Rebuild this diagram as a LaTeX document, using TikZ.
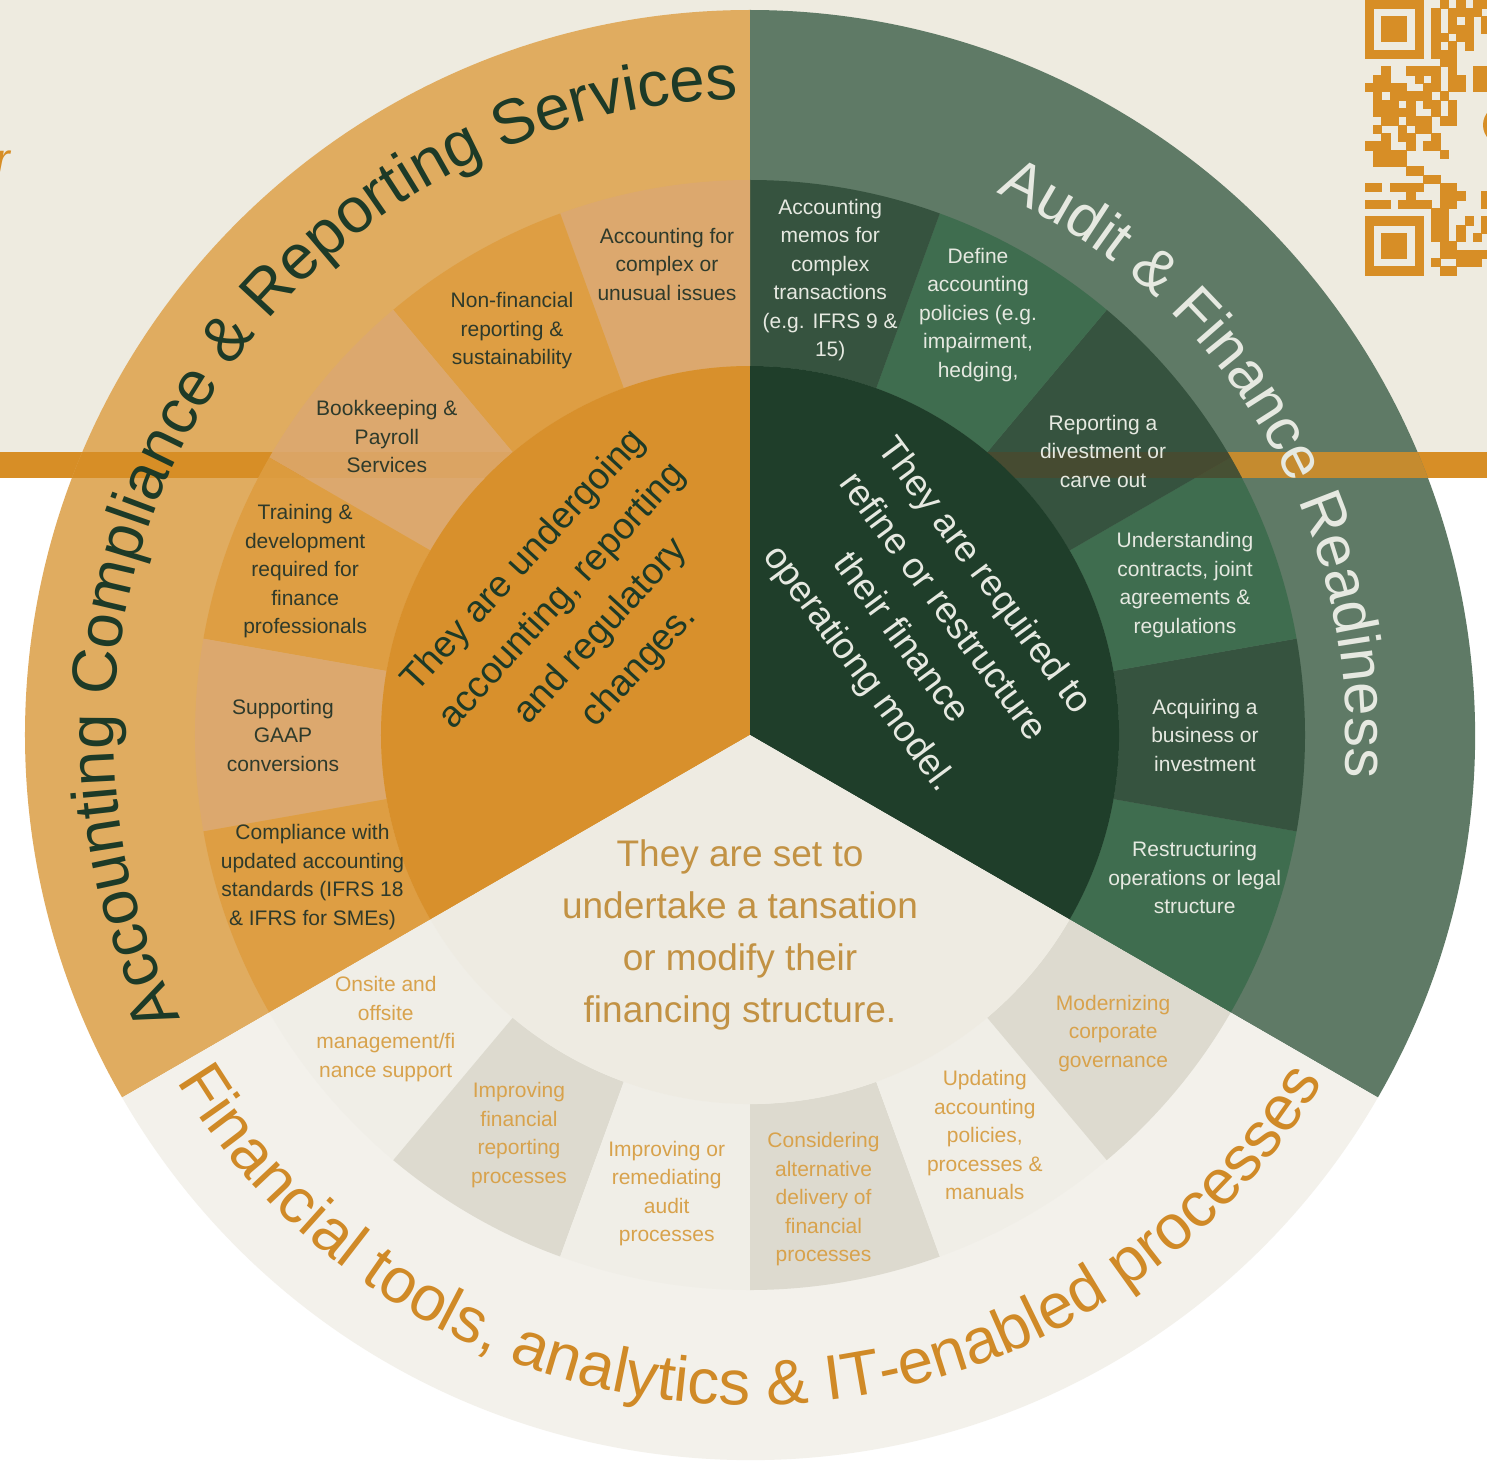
\documentclass[tikz,border=0pt]{standalone}
\usepackage{fontspec}
\setmainfont{Liberation Sans}
\usetikzlibrary{decorations.text}

\definecolor{bgcream}{HTML}{EEEBE0}
\definecolor{band}{HTML}{D78E26}
\definecolor{bandolive}{HTML}{4A4A2E}
\definecolor{ringorange}{HTML}{E0AC60}
\definecolor{segorangeA}{HTML}{DE9E43}
\definecolor{segorangeB}{HTML}{DCA86E}
\definecolor{discorange}{HTML}{D8902C}
\definecolor{ringgreen}{HTML}{5F7A66}
\definecolor{seggreenA}{HTML}{36533F}
\definecolor{seggreenB}{HTML}{3F6D4F}
\definecolor{discgreen}{HTML}{1F3E2A}
\definecolor{ringcream}{HTML}{F3F1EB}
\definecolor{segcreamA}{HTML}{F0EEE7}
\definecolor{segcreamB}{HTML}{DDDACF}
\definecolor{disccream}{HTML}{EEEBE2}
\definecolor{txtdark}{HTML}{2E3A2B}
\definecolor{txtdeep}{HTML}{1D3A27}
\definecolor{txtlight}{HTML}{E6E9E1}
\definecolor{txtgold}{HTML}{D8A24C}
\definecolor{txtorange}{HTML}{D08A27}

\newcommand{\labfont}{\fontsize{21}{28.5}\selectfont}
\newcommand{\midfont}{\fontsize{37}{52}\selectfont}
\newcommand{\ringfont}{\fontsize{63.5}{63.5}\selectfont}

\begin{document}
\begin{tikzpicture}[x=1pt, y=1pt,
  seglabel/.style={align=center, font=\labfont, inner sep=0pt},
  midtext/.style={align=center, font=\midfont, inner sep=0pt}]
  \newcommand{\rIn}{369pt}
  \newcommand{\rMid}{555pt}
  \newcommand{\rOut}{725pt}
  \newcommand{\qrm}{8.33}
  \useasboundingbox (-750,-725) rectangle (737,735);

  % page background
  \fill[bgcream] (-750,283) rectangle (737,735);
  \fill[white] (-750,-725) rectangle (737,257);
  \fill[band] (-750,257) rectangle (737,283);

  % qr code, cut by the right edge
  \foreach \r/\cols in {0/{0,...,6,9,11,13,14}, 1/{0,6,8,10,11,12,13}, 2/{0,2,3,4,6,8,10,12,14},
      3/{0,2,3,4,6,8,10,11,12,14}, 4/{0,2,3,4,6,8,9,11,12}, 5/{0,6,8,10,12},
      6/{0,...,6,8,9,10}, 7/{9,10}, 8/{2,5,6,7,8,10,13,14}, 9/{1,2,6,8,10,11,13,14},
      10/{0,1,2,3,4,7,8,10,11,13,14}, 11/{1,3,4,5,6,7,9}, 12/{1,2,3,5,7,8,10},
      13/{1,2,3,4,5,8,10}, 14/{2,3,5,6,7,9,10}, 15/{1,4,6,7}, 16/{2,4,5,8},
      17/{0,1,2,5,7,8}, 18/{1,2,3,4,9}, 19/{1,2,3,4}, 20/{5,6}, 21/{7,8},
      22/{0,1,3,4,5,6,9,10}, 23/{5,9,10,11,14}, 24/{0,1,2,4,5,6,7,9,10,14}, 25/{8,9},
      26/{0,...,6,8,9,12,14}, 27/{0,6,8,9,11,14}, 28/{0,2,3,4,6,8,9,11,13},
      29/{0,2,3,4,6,9,10}, 30/{0,2,3,4,6,9,10,11,12,13,14}, 31/{0,6,8,11,12,13},
      32/{0,...,6,9,10}} {
    \foreach \c in \cols {
      \fill[band, draw=band, line width=0.4pt] ({615+\qrm*\c},{735-\qrm*\r}) rectangle ++(\qrm,-\qrm);
    }
  }
  \fill[band] (753,610) circle[radius=20pt];
  \node[text=band, font=\fontsize{44}{44}\selectfont\itshape, anchor=base east, inner sep=0pt] (edge-r) at (-740,560) {r};

  % outer ring
  \foreach \a/\c in {90/ringorange, -30/ringgreen, 210/ringcream} {
    \fill[\c] (0,0) -- (\a:\rOut) arc[start angle=\a, delta angle=120, radius=\rOut] -- cycle;
  }
  \begin{scope}
    \clip (0,0) -- (90:\rOut) arc[start angle=90, delta angle=120, radius=\rOut] -- cycle;
    \fill[band] (-750,257) rectangle (0,283);
  \end{scope}
  \begin{scope}
    \clip (0,0) -- (-30:\rOut) arc[start angle=-30, delta angle=120, radius=\rOut] -- cycle;
    \fill[band, opacity=0.85] (0,257) rectangle (737,283);
  \end{scope}

  % middle ring
  \foreach \a/\c in {-30/seggreenB, -10/seggreenA, 10/seggreenB, 30/seggreenA, 50/seggreenB, 70/seggreenA,
      90/segorangeB, 110/segorangeA, 130/segorangeB, 150/segorangeA, 170/segorangeB, 190/segorangeA,
      210/segcreamA, 230/segcreamB, 250/segcreamA, 270/segcreamB, 290/segcreamA, 310/segcreamB} {
    \fill[\c] (\a:\rIn) arc[start angle=\a, delta angle=20, radius=\rIn]
      -- ({\a+20}:\rMid) arc[start angle={\a+20}, delta angle=-20, radius=\rMid] -- cycle;
  }
  \begin{scope}
    \clip (0,0) circle[radius=\rMid];
    \fill[band, opacity=0.15] (-750,257) rectangle (0,283);
    \fill[bandolive, opacity=0.8] (0,257) rectangle (737,283);
  \end{scope}

  % inner disc
  \foreach \a/\c in {90/discorange, -30/discgreen, 210/disccream} {
    \fill[\c] (0,0) -- (\a:\rIn) arc[start angle=\a, delta angle=120, radius=\rIn] -- cycle;
  }

  % segment labels
  \foreach \i/\a/\r/\txt in {1/100/478/{Accounting for\\complex or\\unusual issues},
      2/120.5/469/{Non-financial\\reporting \&\\sustainability},
      3/140.6/470/{Bookkeeping \&\\Payroll\\Services},
      4/159.8/474/{Training \&\\development\\required for\\finance\\professionals},
      5/180/467/{Supporting\\GAAP\\conversions},
      6/198/460/{Compliance with\\updated accounting\\standards (IFRS 18\\\& IFRS for SMEs)}} {
    \node[seglabel, text=txtdark] (o-\i) at (\a:\r pt) {\txt};
  }
  \foreach \i/\a/\r/\txt in {1/80/462/{Accounting\\memos for\\complex\\transactions\\(e.g. IFRS 9 \&\\15)},
      2/61.5/478/{Define\\accounting\\policies (e.g.\\impairment,\\hedging,},
      3/38.8/453/{Reporting a\\divestment or\\carve out},
      4/19/460/{Understanding\\contracts, joint\\agreements \&\\regulations},
      5/0/455/{Acquiring a\\business or\\investment},
      6/-17.8/467/{Restructuring\\operations or legal\\structure}} {
    \node[seglabel, text=txtlight] (g-\i) at (\a:\r pt) {\txt};
  }
  \foreach \i/\a/\r/\txt in {1/218.9/468/{Onsite and\\offsite\\management/fi\\nance support},
      2/240/462/{Improving\\financial\\reporting\\processes},
      3/259.7/466/{Improving or\\remediating\\audit\\processes},
      4/279/470/{Considering\\alternative\\delivery of\\financial\\processes},
      5/300.4/464/{Updating\\accounting\\policies,\\processes \&\\manuals},
      6/320.6/470/{Modernizing\\corporate\\governance}} {
    \node[seglabel, text=txtgold] (c-\i) at (\a:\r pt) {\txt};
  }

  % centre statements
  \node[midtext, text=txtdeep, rotate=47.5] (in-o) at (-168,121)
    {They are undergoing\\accounting, reporting\\and regulatory\\changes.};
  \node[midtext, text=txtlight, rotate=-53.5] (in-g) at (171,112)
    {They are required to\\refine or restructure\\their finance\\operationg model.};
  \node[midtext, text=txtgold!90!black] (in-c) at (-10,-200)
    {They are set to\\undertake a tansation\\or modify their\\financing structure.};

  % ring titles
  \path[decorate, decoration={text along path, text align=center,
      text={|\ringfont\color{txtdeep}|Accounting Compliance {\&} Reporting Services}}]
    (215.5:636pt) arc[start angle=215.5, end angle=82, radius=636pt];
  \path[decorate, decoration={text along path, text align=center,
      text={|\fontsize{60}{60}\selectfont\color{txtlight}|Audit {\&} Finance Readiness}}]
    (80:596pt) arc[start angle=80, end angle=-18.5, radius=596pt];
  \path[decorate, decoration={text along path, text align=center,
      text={|\ringfont\color{txtorange}|Financial tools, analytics {\&} IT-enabled processes}}]
    (190:670pt) arc[start angle=190, end angle=350, radius=670pt];
\end{tikzpicture}
\end{document}
